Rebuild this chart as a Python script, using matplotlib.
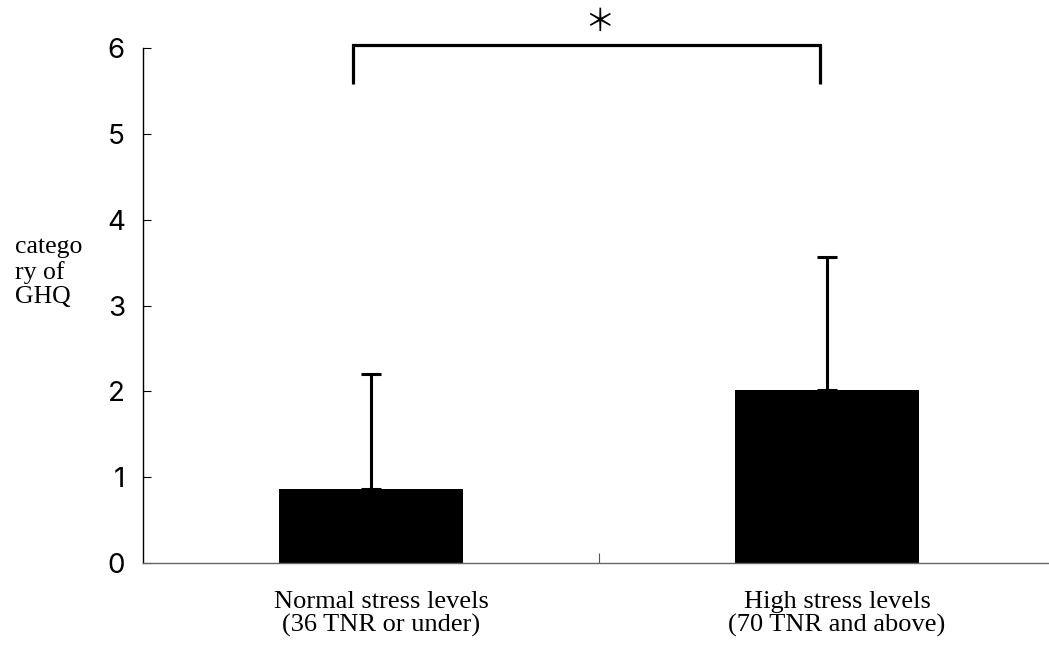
import numpy as np
import matplotlib.pyplot as plt
from matplotlib.transforms import ScaledTranslation

# ── data ────────────────────────────────────────────────────────────────────
categories = ["Normal stress levels\n(36 TNR or under)",
              "High stress levels\n(70 TNR and above)"]
means = [0.86, 2.01]
sds = [1.34, 1.56]
y_ticks = [0, 1, 2, 3, 4, 5, 6]

SERIF = ["Liberation Serif", "DejaVu Serif"]
GOTHIC = ["Noto Sans CJK JP", "DejaVu Sans"]
DIGITS = ["Inter", "DejaVu Sans"]

fig = plt.figure(figsize=(10.49, 6.53), dpi=100, facecolor="white")
ax = fig.add_axes([143 / 1049, 1 - 563 / 653, 912 / 1049, 515 / 653])

x = np.arange(len(categories))
ax.bar(x, means, width=0.405, color="black", zorder=2)
ax.errorbar(x, means, yerr=[np.zeros(len(sds)), sds], fmt="none",
            ecolor="black", elinewidth=2.2, capsize=7, capthick=2.2, zorder=1)

ax.set_xlim(-0.5, 1.5)
ax.set_ylim(0, 6)

# y axis
ax.set_yticks(y_ticks)
ax.set_yticklabels([str(v) for v in y_ticks], family=DIGITS, fontsize=20)
ax.tick_params(axis="y", direction="in", length=6, width=0.8, pad=13)

# x axis: single mid tick, category labels under the bars
ax.set_xticks([0.5])
ax.set_xticklabels([""])
ax.tick_params(axis="x", which="major", direction="in", length=7, width=0.8,
               color="#555555")
ax.set_xticks(x, minor=True)
ax.set_xticklabels(categories, minor=True, family=SERIF, fontsize=19,
                   linespacing=1.07)
ax.tick_params(axis="x", which="minor", length=0, pad=20)
shift = ScaledTranslation(10 / 100, 0, fig.dpi_scale_trans)
for lbl in ax.get_xticklabels(minor=True):
    lbl.set_transform(lbl.get_transform() + shift)

for side in ("top", "right"):
    ax.spines[side].set_visible(False)
ax.spines["left"].set_linewidth(1.0)
ax.spines["bottom"].set_color("#666666")
ax.spines["bottom"].set_linewidth(1.0)

# y label
fig.text(15 / 1049, 1 - 272 / 653, "catego\nry of\nGHQ", family=SERIF,
         fontsize=18.5, ha="left", va="center", linespacing=1.15)

# significance bracket
bx0, bx1, by_top, by_bot = -0.04, 0.985, 6.03, 5.58
ax.plot([bx0, bx0, bx1, bx1], [by_bot, by_top, by_top, by_bot],
        color="black", lw=2.3, clip_on=False, solid_capstyle="butt",
        solid_joinstyle="miter")
ax.text(0.5, 6.3, "＊", family=GOTHIC, fontsize=22, ha="center",
        va="center", clip_on=False)

fig.savefig("out.png", dpi=100, facecolor="white")
